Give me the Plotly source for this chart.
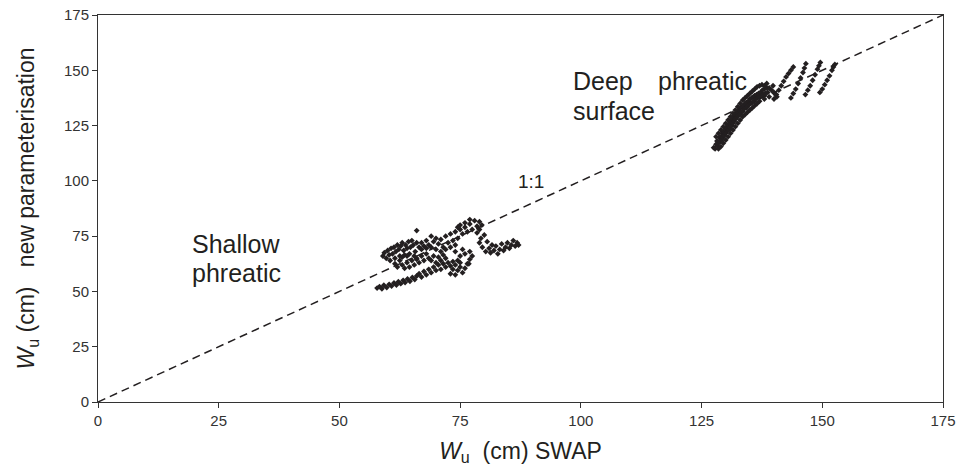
import plotly.graph_objects as go

# Shallow phreatic surface cluster (SWAP Wu, new parameterisation Wu), cm
shallow_x = [57.8, 58.3, 58.8, 59.2, 59.8, 60.3, 60.8, 61.3, 61.8, 62.2, 62.7, 63.2, 63.6, 64.1, 64.6, 65.1, 65.6, 66.0,
             66.5, 67.0, 67.5, 68.0, 68.5, 69.0, 69.5, 70.0, 70.5, 71.0, 71.5, 72.0, 72.5, 73.0, 73.5, 74.0, 74.5, 75.0,
             59.0, 59.3, 59.7, 60.0, 60.3, 60.7, 61.0, 61.3, 61.7, 62.0, 62.3, 62.7, 63.0, 63.3, 63.7, 64.0, 64.3, 64.7,
             65.0, 65.3, 65.7, 66.0, 60.5, 61.5, 62.5, 63.5, 64.5, 65.5, 66.0,
             63.0, 63.5, 64.0, 64.5, 65.0, 65.5, 66.0, 66.5, 67.0, 67.5, 68.0, 68.5, 69.0, 69.5, 70.0, 70.5, 71.0, 71.5,
             72.0, 62.5, 63.0, 64.0, 61.5, 62.0,
             66.0, 66.5, 67.0, 67.5, 68.0, 68.5, 69.0, 69.5, 70.0, 70.5, 71.0, 71.5, 72.0, 72.5, 73.0, 73.5, 74.0, 74.5,
             75.0, 67.0, 68.0, 69.0, 70.0, 71.0, 72.0, 73.0, 74.0,
             75.5, 76.0, 76.5, 77.0, 77.5, 78.0, 78.5, 79.0, 79.5, 77.0, 76.0, 75.0, 74.5, 78.5, 79.0,
             73.0, 73.5, 74.0, 74.5, 75.0, 75.5, 76.0, 76.5, 76.8, 77.0, 77.5, 75.0, 76.0, 77.0, 74.0, 75.5,
             79.0, 79.3, 79.6, 80.0, 80.3, 80.6, 81.0, 81.3, 81.6, 82.0, 82.4, 82.8, 83.2, 83.6, 84.0, 84.4, 84.8, 85.2,
             85.6, 86.0, 86.4, 86.8, 87.1]
shallow_y = [51.5, 52.2, 51.2, 52.8, 51.8, 53.2, 52.4, 53.8, 52.9, 54.4, 53.5, 55.0, 54.0, 55.6, 54.6, 56.3, 55.4, 57.0,
             58.0, 56.5, 59.0, 57.5, 60.0, 58.5, 61.0, 59.5, 62.0, 60.0, 62.5, 61.0, 63.0, 61.5, 63.5, 62.0, 64.0, 63.0,
             66.0, 67.5, 65.0, 68.5, 66.5, 69.5, 67.0, 70.0, 68.0, 71.0, 69.0, 70.5, 72.0, 68.5, 71.0, 69.5, 72.5, 70.0,
             73.0, 71.0, 68.0, 72.0, 64.0, 65.0, 66.0, 66.5, 67.0, 66.0, 64.5,
             62.0, 60.5, 63.0, 61.0, 64.0, 62.0, 65.0, 63.0, 66.0, 64.0, 67.0, 65.0, 64.0, 66.0, 63.0, 65.5, 64.0, 66.5,
             65.0, 64.0, 65.5, 66.0, 62.5, 61.0,
             77.5, 70.0, 72.0, 70.5, 73.0, 71.0, 75.0, 72.5, 74.0, 71.5, 73.5, 70.0, 75.0, 72.0, 76.0, 73.0, 77.0, 74.0,
             78.0, 69.0, 69.5, 70.0, 69.0, 68.0, 69.0, 70.0, 71.0,
             76.0, 79.0, 77.0, 80.5, 78.0, 82.0, 79.5, 81.5, 80.0, 82.5, 81.0, 80.0, 79.0, 76.5, 78.0,
             58.0, 60.0, 57.5, 59.5, 61.0, 58.5, 60.5, 62.5, 62.5, 64.5, 66.0, 66.0, 67.0, 68.0, 68.0, 69.0,
             72.0, 74.0, 70.0, 75.5, 68.0, 72.5, 69.5, 67.5, 71.0, 68.5, 70.5, 67.0, 69.0, 71.5, 68.5, 70.0, 72.0, 69.5,
             71.0, 73.0, 70.5, 72.0, 71.0]

# Deep phreatic surface cluster
deep_x = [127.5, 127.8, 128.0, 128.2, 128.3, 128.5, 128.7, 128.8, 129.0, 129.1, 129.3, 129.4, 129.6, 129.7, 129.9,
          130.0, 130.2, 130.3, 130.5, 130.6, 130.8, 130.9, 131.0, 131.2, 131.3, 131.5, 131.6, 131.8, 131.9, 132.0,
          132.2, 132.3, 132.5, 132.6, 132.8, 132.9, 133.0, 133.2, 133.4, 133.5, 133.7, 133.8, 134.0, 134.2, 134.3,
          134.5, 134.7, 134.8, 135.0, 135.2, 135.4, 135.5, 135.7, 135.9, 136.0, 136.2, 136.4, 136.6, 136.8, 137.0,
          137.2, 137.4, 137.6, 137.8, 138.0, 138.2, 138.5, 138.7,
          128.0, 128.5, 129.0, 129.5, 130.0, 130.5, 131.0, 131.5, 132.0, 132.5, 133.0, 133.5, 134.0, 134.5, 135.0,
          135.5, 136.0, 136.5, 137.0, 137.5,
          128.5, 129.0, 129.5, 130.0, 130.5, 131.0, 131.5, 132.0, 132.5, 133.0, 133.5, 134.0, 134.5, 135.0, 135.5,
          136.0, 136.5, 137.0, 138.0, 139.0,
          138.0, 138.5, 139.0, 139.5, 139.8, 140.0, 140.3, 140.6,
          140.0, 140.5, 141.0, 141.5, 142.0, 142.5, 143.0, 143.5, 144.0,
          143.5, 144.0, 144.5, 145.0, 145.5, 146.0, 146.3, 146.6,
          146.5, 147.0, 147.5, 148.0, 148.5, 149.0, 149.3, 149.6,
          149.5, 150.0, 150.5, 151.0, 151.5, 152.0, 152.3, 152.6]
deep_y = [115.0, 114.5, 116.5, 118.0, 115.8, 117.0, 119.5, 117.8, 120.0, 118.5, 121.5, 119.5, 122.0, 120.5, 123.5,
          121.5, 124.0, 122.5, 125.0, 123.0, 126.0, 124.0, 127.0, 125.0, 128.0, 126.0, 129.0, 127.0, 130.0, 128.0,
          130.5, 128.5, 131.0, 129.5, 132.0, 130.0, 133.0, 131.0, 133.5, 131.5, 134.0, 132.5, 135.0, 133.0, 135.5,
          133.5, 136.0, 134.5, 137.0, 135.0, 137.5, 135.5, 138.0, 136.0, 138.5, 137.0, 139.0, 137.5, 139.5, 138.0,
          140.0, 138.5, 141.0, 139.0, 141.5, 139.5, 142.0, 140.0,
          120.0, 121.5, 123.0, 124.5, 126.0, 127.5, 129.0, 130.5, 132.0, 133.5, 135.0, 136.5, 137.5, 138.5, 139.5,
          140.5, 141.5, 142.5, 143.0, 143.5,
          114.5, 115.5, 117.0, 118.5, 120.0, 121.5, 123.0, 124.5, 126.0, 127.5, 129.0, 130.0, 131.0, 132.0, 133.0,
          134.0, 135.0, 136.0, 137.0, 138.0,
          143.0, 144.0, 142.0, 141.0, 143.0, 140.0, 139.0, 138.0,
          137.0, 139.0, 141.0, 143.0, 145.0, 147.0, 148.5, 150.0, 151.5,
          137.5, 139.5, 141.5, 144.0, 146.5, 149.0, 151.0, 153.0,
          139.0, 141.0, 143.0, 145.5, 148.0, 150.5, 152.0, 153.5,
          140.0, 141.5, 143.5, 145.5, 147.5, 150.0, 151.5, 152.6]

one_to_one = [0, 175]
tick_vals = [0, 25, 50, 75, 100, 125, 150, 175]

ink = "#231f20"
font_family = "Liberation Sans, Arial, sans-serif"

fig = go.Figure()
fig.add_trace(go.Scatter(x=one_to_one, y=one_to_one, mode="lines",
                         line=dict(color=ink, width=1.5, dash="8px,5px"), hoverinfo="skip"))
fig.add_trace(go.Scatter(x=shallow_x, y=shallow_y, mode="markers",
                         marker=dict(symbol="diamond", size=4.5, color=ink)))
fig.add_trace(go.Scatter(x=deep_x, y=deep_y, mode="markers",
                         marker=dict(symbol="diamond", size=4.5, color=ink)))

ann_font = dict(family=font_family, size=25, color=ink)
labels = [
    ("Deep", 98.0, 145.0),
    ("phreatic", 115.5, 145.0),
    ("surface", 98.0, 131.5),
    ("Shallow", 19.1, 71.5),
    ("phreatic", 19.1, 58.5),
    ("1:1", 86.5, 99.5),
]
for txt, ax_, ay_ in labels:
    fig.add_annotation(x=ax_, y=ay_, text=txt, showarrow=False, xanchor="left", yanchor="middle",
                       font=ann_font if txt != "1:1" else dict(family=font_family, size=19, color=ink))

axis_common = dict(range=[0, 175], tickvals=tick_vals, showgrid=False, zeroline=False,
                   showline=True, linecolor="#333333", linewidth=1, mirror=True,
                   ticks="outside", ticklen=5, tickcolor="#333333", ticklabeloverflow="allow",
                   tickfont=dict(family=font_family, size=15, color="#333333"))

fig.update_layout(
    width=960, height=469,
    margin=dict(l=98, r=4, t=15, b=67),
    paper_bgcolor="white", plot_bgcolor="white",
    showlegend=False,
    xaxis=dict(**axis_common,
               title=dict(text="<i>W</i><sub>u</sub>  (cm) SWAP",
                          font=dict(family=font_family, size=23, color=ink), standoff=14)),
    yaxis=dict(**axis_common,
               title=dict(text="<i>W</i><sub>u</sub> (cm)   new parameterisation",
                          font=dict(family=font_family, size=23, color=ink), standoff=22)),
)

fig.write_html("out.html")
